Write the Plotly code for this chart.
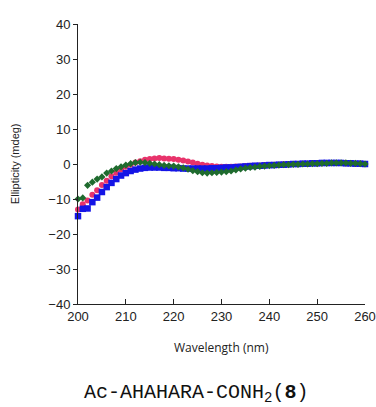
import plotly.graph_objects as go

wavelength = list(range(200, 261))

red = [-13.0, -11.5, -10.4, -8.8, -7.5, -6.0, -4.8, -3.5, -2.5, -1.6,
       -0.8, -0.2, 0.4, 0.8, 1.2, 1.4, 1.6, 1.7, 1.6, 1.5,
       1.4, 1.2, 1.0, 0.7, 0.4, 0.1, -0.2, -0.4, -0.6, -0.7,
       -0.8, -0.8, -0.8, -0.7, -0.7, -0.6, -0.5, -0.5, -0.4, -0.3,
       -0.3, -0.2, -0.2, -0.1, -0.1, 0.0, 0.0, 0.1, 0.1, 0.2,
       0.2, 0.2, 0.3, 0.3, 0.3, 0.3, 0.2, 0.2, 0.1, 0.1, 0.0]

blue = [-14.9, -12.8, -12.7, -10.9, -9.6, -8.0, -6.6, -5.4, -4.3, -3.3,
        -2.6, -2.0, -1.6, -1.3, -1.1, -1.0, -1.0, -1.0, -1.1, -1.1,
        -1.2, -1.2, -1.3, -1.3, -1.3, -1.3, -1.3, -1.3, -1.2, -1.2,
        -1.1, -1.0, -1.0, -0.9, -0.8, -0.7, -0.6, -0.5, -0.5, -0.4,
        -0.3, -0.3, -0.2, -0.2, -0.1, 0.0, 0.0, 0.1, 0.1, 0.2,
        0.2, 0.3, 0.3, 0.3, 0.3, 0.3, 0.2, 0.2, 0.1, 0.1, 0.0]

green = [-10.0, -9.7, -6.1, -5.2, -4.3, -3.7, -2.6, -2.0, -1.3, -0.8,
         -0.3, 0.1, 0.4, 0.5, 0.4, 0.2, 0.0, -0.2, -0.4, -0.5,
         -0.6, -0.8, -1.1, -1.5, -1.9, -2.2, -2.5, -2.6, -2.5, -2.4,
         -2.3, -2.2, -2.0, -1.7, -1.4, -1.2, -1.0, -0.9, -0.7, -0.6,
         -0.5, -0.4, -0.3, -0.2, -0.2, -0.1, -0.1, 0.0, 0.0, 0.1,
         0.1, 0.2, 0.2, 0.3, 0.3, 0.3, 0.3, 0.2, 0.2, 0.1, 0.0]

x_ticks = [200, 210, 220, 230, 240, 250, 260]
y_ticks = [-40, -30, -20, -10, 0, 10, 20, 30, 40]

fig = go.Figure()
fig.add_trace(go.Scatter(x=wavelength, y=red, mode="markers",
                         marker=dict(symbol="circle", size=6, color="#E8336B"),
                         showlegend=False, cliponaxis=False))
fig.add_trace(go.Scatter(x=wavelength, y=blue, mode="markers",
                         marker=dict(symbol="square", size=6.5, color="#1414E6"),
                         showlegend=False, cliponaxis=False))
fig.add_trace(go.Scatter(x=wavelength, y=green, mode="markers",
                         marker=dict(symbol="diamond", size=5.5, color="#1F6B2E"),
                         showlegend=False, cliponaxis=False))

fig.update_layout(
    width=376, height=407,
    margin=dict(l=78, r=11, t=24, b=103),
    plot_bgcolor="white", paper_bgcolor="white",
    font=dict(family="Liberation Sans, Arial", size=13, color="#222"),
    xaxis=dict(range=[200, 260], tickvals=x_ticks, ticks="inside", ticklen=5,
               tickcolor="#222", showline=True, linecolor="#222", linewidth=1,
               showgrid=False, zeroline=False, tickfont=dict(size=13),
               automargin=False),
    yaxis=dict(range=[-40, 40], tickvals=y_ticks, ticks="outside", ticklen=4,
               tickcolor="#222", showline=True, linecolor="#222", linewidth=1,
               showgrid=False, zeroline=False, tickfont=dict(size=13),
               automargin=False),
    annotations=[
        dict(text="Ellipticity (mdeg)", x=-0.219, y=0.5, xref="paper", yref="paper",
             xanchor="center", yanchor="middle",
             showarrow=False, textangle=-90, font=dict(size=11, family="Liberation Sans, Arial")),
        dict(text="Wavelength (nm)", x=0.5, y=-0.154, xref="paper", yref="paper",
             xanchor="center", yanchor="middle",
             showarrow=False, font=dict(size=12, family="Open Sans, Carlito, Lato")),
        dict(text="Ac-AHAHARA-CONH<sub>2</sub>(<b>8</b>)", x=0.411, y=-0.318, xref="paper", yref="paper",
             xanchor="center", yanchor="middle",
             showarrow=False, font=dict(size=20, family="Liberation Mono, Courier New", color="#111")),
    ],
)
fig.write_html("out.html")
